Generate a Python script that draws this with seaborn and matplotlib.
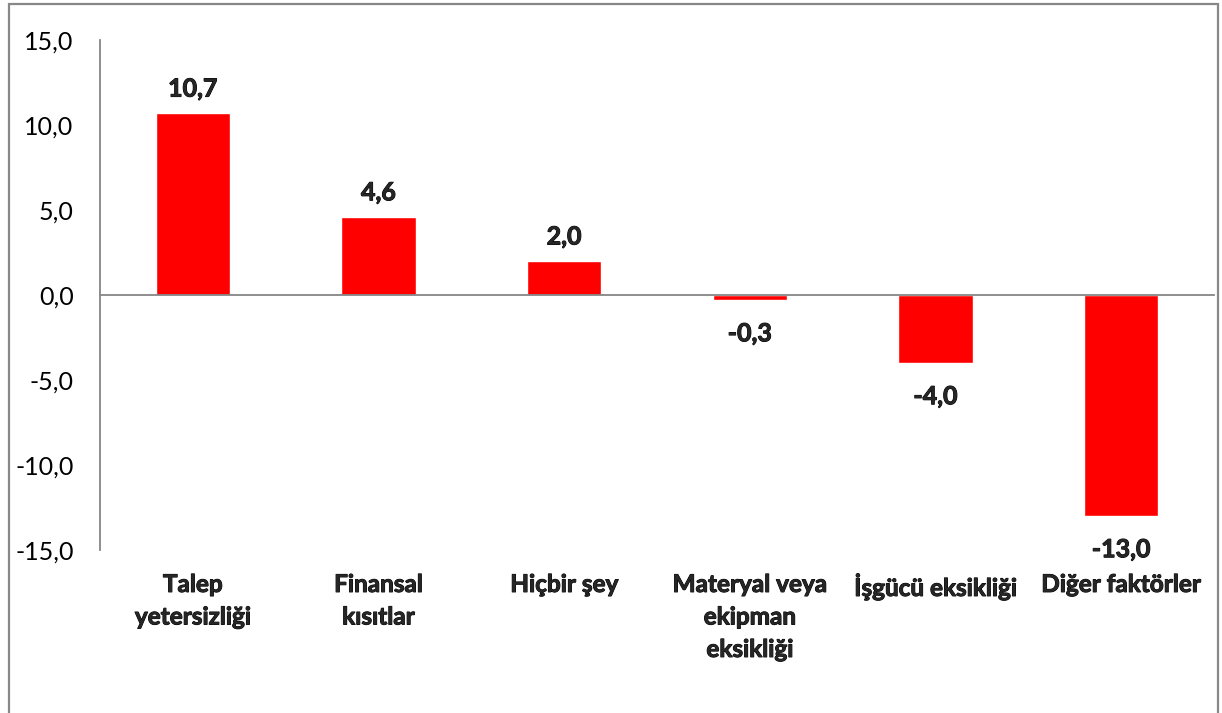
import matplotlib
matplotlib.use("Agg")
import matplotlib.pyplot as plt
import matplotlib.patches as mpatches
import matplotlib.patheffects as pe
import pandas as pd
import seaborn as sns

categories = ["Talep\nyetersizliği", "Finansal\nkısıtlar", "Hiçbir şey",
              "Materyal veya\nekipman\neksikliği", "İşgücü eksikliği", "Diğer faktörler"]
values = [10.7, 4.6, 2.0, -0.3, -4.0, -13.0]
yticks = [-15, -10, -5, 0, 5, 10, 15]

df = pd.DataFrame({"kategori": categories, "deger": values})

sns.set_style("white")
plt.rcParams["font.family"] = ["Lato", "DejaVu Sans"]

AXIS_GRAY = "#868686"
FS = 18
# Lato Bold is a bit light next to the original's font, thicken it slightly
heavy = [pe.withStroke(linewidth=0.7, foreground="black")]

fig = plt.figure(figsize=(12.22, 7.13), dpi=100)
ax = fig.add_axes([100 / 1222, 1 - 550 / 713, 1114 / 1222, 510 / 713])

sns.barplot(data=df, x="kategori", y="deger", color="#FF0000", width=0.4,
            saturation=1, ax=ax)

ax.set_xlim(-0.5, len(categories) - 0.5)
ax.set_ylim(-15, 15)
ax.set_yticks(yticks)
ax.set_yticklabels([f"{v:.1f}".replace(".", ",") for v in yticks], fontsize=FS)
ax.set_xlabel("")
ax.set_ylabel("")

# x axis sits on zero, ticks between the categories
ax.spines["top"].set_visible(False)
ax.spines["right"].set_visible(False)
ax.spines["bottom"].set_position(("data", 0))
for s in ("left", "bottom"):
    ax.spines[s].set_color(AXIS_GRAY)
    ax.spines[s].set_linewidth(1.3)
ax.set_xticks([i + 0.5 for i in range(len(categories))])
ax.set_xticklabels([])
ax.tick_params(axis="x", direction="out", length=6, width=1.3, color=AXIS_GRAY)
ax.tick_params(axis="y", direction="out", length=6, width=1.3, color=AXIS_GRAY,
               pad=13, labelcolor="black")

# category names at the bottom of the plot area
for i, c in enumerate(categories):
    ax.text(i, -0.045, c, transform=ax.get_xaxis_transform(), ha="center", va="top",
            fontsize=17.5, fontweight="bold", linespacing=1.5, path_effects=heavy)

# value labels
for p, v in zip(ax.patches, values):
    x = p.get_x() + p.get_width() / 2
    off = 9 if v >= 0 else -16
    ax.annotate(f"{v:.1f}".replace(".", ","), (x, v), xytext=(0, off),
                textcoords="offset points", ha="center",
                va="bottom" if v >= 0 else "top",
                fontsize=FS, fontweight="bold", path_effects=heavy)

# outer chart frame
fig.patches.append(mpatches.Rectangle((9 / 1222, -0.05), 1209 / 1222, 1.05 - 4 / 713,
                                      transform=fig.transFigure, fill=False,
                                      edgecolor="#888888", linewidth=1.6, clip_on=False))

plt.savefig("out.png", dpi=100)
